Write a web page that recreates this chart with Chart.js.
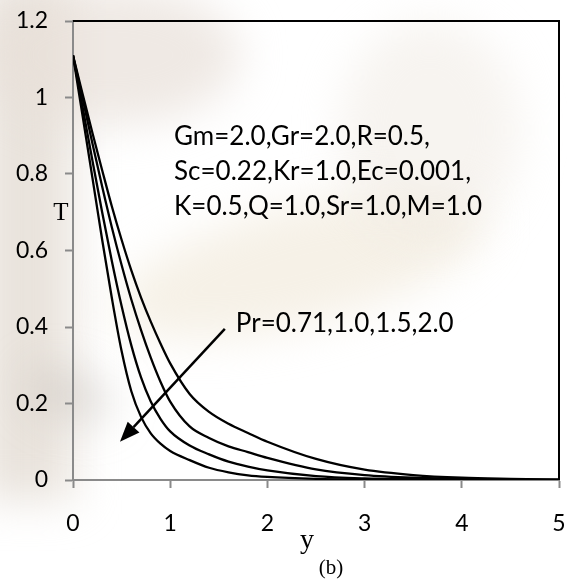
<!DOCTYPE html>
<html>
<head>
<meta charset="utf-8">
<script src="https://cdn.jsdelivr.net/npm/chart.js@4.4.1/dist/chart.umd.min.js"></script>
<style>
html,body{margin:0;padding:0;background:#fff;}
#wrap{width:567px;height:581px;}
</style>
</head>
<body>
<div id="wrap"><canvas id="temp_graph" width="567" height="581"></canvas></div>
<script>

// distance from the plate
let y_vals=[0,0.1,0.2,0.3,0.4,0.5,0.6,0.7,0.8,0.9,1.0,1.2,1.4,1.6,1.8,2.0,2.5,3.0,3.5,4.0,4.5,5.0];

// temperature profiles, one per Prandtl number
let pr_names=['Pr=0.71','Pr=1.0','Pr=1.5','Pr=2.0'];
let t_pr071=[1.11,1.008,0.907,0.81,0.715,0.628,0.548,0.477,0.414,0.357,0.305,0.225,0.178,0.147,0.123,0.10,0.055,0.027,0.013,0.006,0.003,0.001];
let t_pr10=[1.11,0.996,0.88,0.767,0.66,0.562,0.472,0.392,0.32,0.257,0.205,0.14,0.11,0.088,0.073,0.058,0.028,0.013,0.006,0.003,0.001,0];
let t_pr15=[1.11,0.973,0.835,0.70,0.572,0.455,0.352,0.268,0.205,0.16,0.127,0.09,0.067,0.048,0.035,0.025,0.01,0.004,0.002,0.001,0,0];
let t_pr20=[1.11,0.95,0.79,0.628,0.475,0.337,0.232,0.165,0.122,0.095,0.076,0.052,0.032,0.02,0.012,0.008,0.003,0.001,0,0,0,0];

let x_ticks=[0,1,2,3,4,5];
let t_ticks=[0,0.2,0.4,0.6,0.8,1,1.2];

let param_lines=['Gm=2.0,Gr=2.0,R=0.5,','Sc=0.22,Kr=1.0,Ec=0.001,','K=0.5,Q=1.0,Sr=1.0,M=1.0'];
let pr_note='Pr=0.71,1.0,1.5,2.0';
let x_title='y';
let y_title='T';
let fig_tag='(b)';

const sans='Lato, "Open Sans", sans-serif';
const serif='"Liberation Serif", "DejaVu Serif", serif';

function make_points(ys){
    let pts=[];
    for(let i=0;i<y_vals.length;i++){
        pts.push({x:y_vals[i],y:ys[i]});
    }
    return pts;
}

let all_t=[t_pr071,t_pr10,t_pr15,t_pr20];
let sets=[];
for(let i=0;i<all_t.length;i++){
    sets.push({
        label:pr_names[i],
        data:make_points(all_t[i]),
        borderColor:'#000',
        borderWidth:2.3,
        pointRadius:0,
        fill:false,
        cubicInterpolationMode:'monotone'
    });
}

// faint watermark behind the plot
const backdrop={
    id:'backdrop',
    beforeDraw(chart){
        const c=chart.ctx;
        c.save();
        c.fillStyle='#fff';
        c.fillRect(0,0,chart.width,chart.height);
        c.filter='blur(22px)';
        c.fillStyle='rgba(226,217,208,0.75)';
        c.fillRect(-20,-20,95,520);
        c.fillStyle='rgba(232,224,216,0.7)';
        c.beginPath();c.ellipse(110,55,130,70,0,0,Math.PI*2);c.fill();
        c.fillStyle='rgba(238,229,212,0.55)';
        c.beginPath();c.ellipse(300,265,190,60,-0.25,0,Math.PI*2);c.fill();
        c.fillStyle='rgba(190,184,178,0.45)';
        c.beginPath();c.ellipse(70,395,45,22,0.3,0,Math.PI*2);c.fill();
        c.fillStyle='rgba(240,234,226,0.5)';
        c.beginPath();c.ellipse(430,130,90,110,0,0,Math.PI*2);c.fill();
        c.restore();
    }
};

// top and right frame lines, notes, arrow and titles
const extras={
    id:'extras',
    afterDraw(chart){
        const c=chart.ctx;
        const a=chart.chartArea;
        const sx=chart.scales.x, sy=chart.scales.y;
        c.save();
        c.strokeStyle='#000';
        c.lineWidth=2;
        c.beginPath();
        c.moveTo(a.left,a.top);
        c.lineTo(a.right,a.top);
        c.lineTo(a.right,a.bottom);
        c.stroke();

        c.fillStyle='#000';
        c.font='26px '+sans;
        c.textAlign='left';
        c.textBaseline='middle';
        let note_y=[0.897,0.805,0.714];
        for(let i=0;i<param_lines.length;i++){
            c.fillText(param_lines[i],sx.getPixelForValue(1.04),sy.getPixelForValue(note_y[i]));
        }
        c.fillText(pr_note,sx.getPixelForValue(1.675),sy.getPixelForValue(0.41));

        // arrow pointing towards rising Pr
        let x0=sx.getPixelForValue(1.562), y0=sy.getPixelForValue(0.395);
        let x1=sx.getPixelForValue(0.483), y1=sy.getPixelForValue(0.100);
        let ang=Math.atan2(y1-y0,x1-x0);
        let hl=20, hw=8;
        let bx=x1-hl*Math.cos(ang), by=y1-hl*Math.sin(ang);
        c.lineWidth=2.5;
        c.beginPath();
        c.moveTo(x0,y0);
        c.lineTo(bx,by);
        c.stroke();
        c.beginPath();
        c.moveTo(x1,y1);
        c.lineTo(bx+hw*Math.sin(ang),by-hw*Math.cos(ang));
        c.lineTo(bx-hw*Math.sin(ang),by+hw*Math.cos(ang));
        c.closePath();
        c.fill();

        c.font='25px '+serif;
        c.textAlign='center';
        c.fillText(y_title,61,213);
        c.font='28px '+serif;
        c.fillText(x_title,307,541);
        c.font='21px '+serif;
        c.fillText(fig_tag,331,568);
        c.restore();
    }
};

const graph=document.getElementById('temp_graph').getContext('2d');

new Chart(graph,{
    type:'line',
    data:{datasets:sets},
    options:{
        responsive:false,
        animation:false,
        layout:{padding:{top:21,right:8,left:0,bottom:0}},
        plugins:{
            legend:{display:false},
            tooltip:{enabled:false}
        },
        scales:{
            x:{
                type:'linear',
                min:0,
                max:5,
                afterBuildTicks(s){s.ticks=x_ticks.map(v=>({value:v}));},
                afterFit(s){s.height=101;s.paddingLeft=0;s.paddingRight=0;},
                ticks:{color:'#000',font:{family:sans,size:23},padding:22,maxRotation:0},
                grid:{drawOnChartArea:false,drawTicks:true,tickLength:8,tickColor:'#8a8a8a',tickWidth:2},
                border:{display:true,color:'#8a8a8a',width:2}
            },
            y:{
                type:'linear',
                min:0,
                max:1.2,
                afterBuildTicks(s){s.ticks=t_ticks.map(v=>({value:v}));},
                afterFit(s){s.width=73;s.paddingTop=0;s.paddingBottom=0;},
                ticks:{color:'#000',font:{family:sans,size:23},padding:17,callback:v=>String(+v.toFixed(1))},
                grid:{drawOnChartArea:false,drawTicks:true,tickLength:8,tickColor:'#8a8a8a',tickWidth:2},
                border:{display:true,color:'#8a8a8a',width:2}
            }
        }
    },
    plugins:[backdrop,extras]
});

</script>
</body>
</html>
